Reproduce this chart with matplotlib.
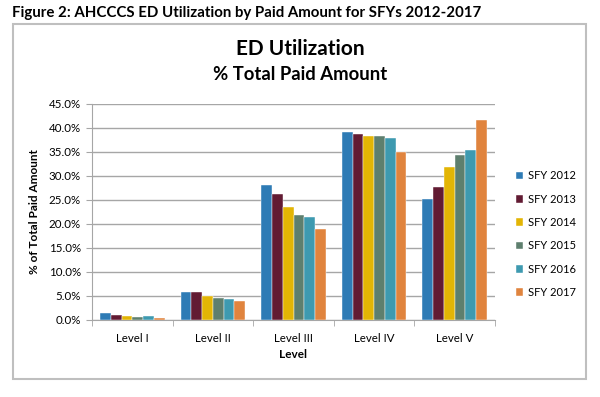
import matplotlib
matplotlib.use("Agg")
import matplotlib.pyplot as plt
import numpy as np
from matplotlib.patches import Rectangle

levels = ["Level I", "Level II", "Level III", "Level IV", "Level V"]
years = ["SFY 2012", "SFY 2013", "SFY 2014", "SFY 2015", "SFY 2016", "SFY 2017"]

sfy2012 = [1.4, 5.9, 28.2, 39.1, 25.3]
sfy2013 = [1.0, 5.9, 26.3, 38.8, 27.7]
sfy2014 = [0.8, 5.1, 23.6, 38.4, 31.9]
sfy2015 = [0.6, 4.6, 21.9, 38.4, 34.3]
sfy2016 = [0.8, 4.4, 21.4, 37.9, 35.4]
sfy2017 = [0.4, 3.9, 18.9, 35.1, 41.6]
series = [sfy2012, sfy2013, sfy2014, sfy2015, sfy2016, sfy2017]

colors = ["#2E7BB5", "#621B33", "#E3B505", "#5E7F6E", "#3E9AB0", "#E0843E"]

plt.rcParams['font.family'] = ['Lato', 'DejaVu Sans']

W, H = 600, 397
fig = plt.figure(figsize=(6, 3.97), dpi=100)

# outer chart frame
fig.patches.append(Rectangle((12.7 / W, 1 - 379 / H), (586 - 12.7) / W, (379 - 23.7) / H,
                             transform=fig.transFigure, fill=False,
                             edgecolor="#BFBFBF", lw=1.5))

fig.text(12 / W, 1 - 13 / H, "Figure 2: AHCCCS ED Utilization by Paid Amount for SFYs 2012-2017",
         fontsize=10.8, fontweight="bold", va="center", ha="left")
fig.text(300 / W, 1 - 49 / H, "ED Utilization", fontsize=15, fontweight="bold",
         ha="center", va="center")
fig.text(300 / W, 1 - 75 / H, "% Total Paid Amount", fontsize=13.3, fontweight="bold",
         ha="center", va="center")

left, right, top, bottom = 92, 495, 104, 320
ax = fig.add_axes([left / W, 1 - bottom / H, (right - left) / W, (bottom - top) / H])

x = np.arange(len(levels))
n = len(series)
group_w = 0.8
bw = group_w / n
for i, (vals, c, lab) in enumerate(zip(series, colors, years)):
    ax.bar(x - group_w / 2 + bw * (i + 0.5), vals, width=bw, color=c, label=lab,
           edgecolor="white", linewidth=0.3, zorder=3)

ax.set_xlim(-0.5, len(levels) - 0.5)
ax.set_ylim(0, 45)
ax.set_yticks(np.arange(0, 46, 5))
ax.set_yticklabels([f"{v:.1f}%" for v in np.arange(0, 46, 5)], fontsize=8.3)
ax.set_xticks(x)
ax.set_xticklabels(levels, fontsize=8.3)
ax.set_xticks(np.arange(-0.5, len(levels), 1), minor=True)
ax.tick_params(axis="x", which="major", length=0, pad=9)
ax.tick_params(axis="x", which="minor", length=4, color="#A6A6A6")
ax.tick_params(axis="y", length=4, color="#A6A6A6", pad=4)

ax.grid(axis="y", color="#A6A6A6", lw=1, zorder=0)
for s in ["top", "right"]:
    ax.spines[s].set_visible(False)
for s in ["left", "bottom"]:
    ax.spines[s].set_color("#A6A6A6")

ax.set_xlabel("Level", fontsize=8.5, fontweight="bold", labelpad=4)
ax.set_ylabel("% of Total Paid Amount", fontsize=8.5, fontweight="bold", labelpad=6)

leg = ax.legend(loc="upper left", bbox_to_anchor=(1.04, 0.713), frameon=False,
                fontsize=8, handlelength=0.7, handleheight=0.7, handletextpad=0.4,
                labelspacing=1.11, borderaxespad=0)

fig.savefig("out.png", dpi=100)
